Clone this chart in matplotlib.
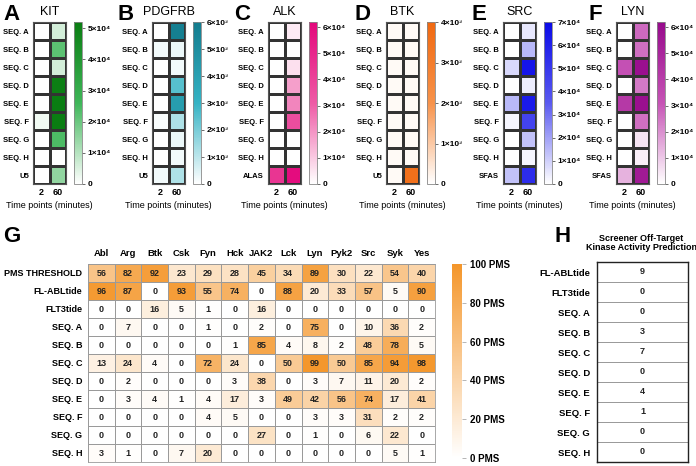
import matplotlib
matplotlib.use("Agg")
import matplotlib.pyplot as plt
import numpy as np
from matplotlib.colors import LinearSegmentedColormap

plt.rcParams['font.family'] = ['Liberation Sans', 'DejaVu Sans']
plt.rcParams['font.weight'] = 'bold'

# ---- data: panels A-F (signal at 2 and 60 min) ----
seq_rows = ["SEQ. A", "SEQ. B", "SEQ. C", "SEQ. D", "SEQ. E", "SEQ. F", "SEQ. G", "SEQ. H"]
time_labels = ["2", "60"]

kit_2 = [0, 0, 0, 0, 0, 2000, 0, 0, 0]
kit_60 = [6000, 22000, 6000, 51000, 52000, 52000, 24000, 0, 15000]

pdgfrb_2 = [0, 200, 0, 0, 0, 100, 0, 0, 200]
pdgfrb_60 = [5800, 300, 200, 2500, 4200, 1200, 300, 200, 1200]

alk_2 = [0, 0, 0, 0, 0, 0, 0, 0, 45000]
alk_60 = [4000, 0, 6000, 18000, 23000, 36000, 0, 0, 60000]

btk_2 = [100, 100, 100, 100, 100, 100, 100, 100, 100]
btk_60 = [100, 100, 100, 100, 100, 100, 100, 100, 3600]

src_2 = [0, 0, 8000, 0, 15000, 2000, 0, 0, 13000]
src_60 = [5000, 15000, 65000, 4000, 63000, 45000, 13000, 2000, 55000]

lyn_2 = [0, 0, 32000, 0, 42000, 0, 0, 0, 14000]
lyn_60 = [27000, 26000, 60000, 24000, 60000, 26000, 5000, 3000, 55000]

# ---- data: panel G (PMS per kinase) ----
kinases = ["Abl", "Arg", "Btk", "Csk", "Fyn", "Hck", "JAK2", "Lck", "Lyn", "Pyk2", "Src", "Syk", "Yes"]
g_rows = ["PMS THRESHOLD", "FL-ABLtide", "FLT3tide"] + seq_rows
pms_threshold = [56, 82, 92, 23, 29, 28, 45, 34, 89, 30, 22, 54, 40]
fl_abltide = [96, 87, 0, 93, 55, 74, 0, 88, 20, 33, 57, 5, 90]
flt3tide = [0, 0, 16, 5, 1, 0, 16, 0, 0, 0, 0, 0, 0]
seq_a = [0, 7, 0, 0, 1, 0, 2, 0, 75, 0, 10, 36, 2]
seq_b = [0, 0, 0, 0, 0, 1, 85, 4, 8, 2, 48, 78, 5]
seq_c = [13, 24, 4, 0, 72, 24, 0, 50, 99, 50, 85, 94, 98]
seq_d = [0, 2, 0, 0, 0, 3, 38, 0, 3, 7, 11, 20, 2]
seq_e = [0, 3, 4, 1, 4, 17, 3, 49, 42, 56, 74, 17, 41]
seq_f = [0, 0, 0, 0, 4, 5, 0, 0, 3, 3, 31, 2, 2]
seq_g = [0, 0, 0, 0, 0, 0, 27, 0, 1, 0, 6, 22, 0]
seq_h = [3, 1, 0, 7, 20, 0, 0, 0, 0, 0, 0, 5, 1]

# ---- data: panel H ----
h_rows = ["FL-ABLtide", "FLT3tide"] + seq_rows
h_counts = [9, 0, 0, 3, 7, 0, 4, 1, 0, 0]

W, H = 696, 466
fig = plt.figure(figsize=(W / 100, H / 100), dpi=100)


def box(x, y, w, h):
    # pixel box (from top-left) -> figure fraction
    return [x / W, 1 - (y + h) / H, w / W, h / H]


def sup(n):
    return str(n).translate(str.maketrans("0123456789", "⁰¹²³⁴⁵⁶⁷⁸⁹"))


def small_panel(left, letter, letter_x, title, last_row, v2, v60, vmax, nticks, exp, colors):
    cmap = LinearSegmentedColormap.from_list(title, colors)
    data = np.column_stack([v2, v60])
    ax = fig.add_axes(box(left, 22, 33, 162))
    mesh = ax.pcolormesh(data, cmap=cmap, vmin=0, vmax=vmax,
                         edgecolors='#333333', linewidth=0.8)
    ax.set_ylim(len(v2), 0)
    rows = seq_rows + [last_row]
    ax.set_yticks(np.arange(len(rows)) + 0.5)
    ax.set_yticklabels(rows, fontsize=5.5)
    ax.set_xticks([0.5, 1.5])
    ax.set_xticklabels(time_labels, fontsize=6.5)
    ax.tick_params(length=0, pad=3)
    for s in ax.spines.values():
        s.set_color('#555555')
        s.set_linewidth(0.8)
    ax.set_xlabel("Time points (minutes)", fontsize=6.5, labelpad=3)
    ax.set_title(title, fontsize=9, pad=5)
    fig.text(letter_x / W, 1 - 15 / H, letter, fontsize=16, va='center')

    cax = fig.add_axes(box(left + 41, 22, 8, 162))
    cb = fig.colorbar(mesh, cax=cax)
    ticks = [i * 10 ** exp for i in range(nticks + 1)]
    cb.set_ticks(ticks)
    cb.set_ticklabels(["0"] + [f"{i}×10{sup(exp)}" for i in range(1, nticks + 1)])
    cb.ax.tick_params(labelsize=6, length=2, width=0.6, color='#555555', pad=2)
    cb.outline.set_edgecolor('#888888')
    cb.outline.set_linewidth(0.6)


small_panel(33, "A", 3, "KIT", "U5", kit_2, kit_60, 52000, 5, 4,
            ['white', '#3fb659', '#0a7d12'])
small_panel(152, "B", 118, "PDGFRB", "U5", pdgfrb_2, pdgfrb_60, 6000, 6, 3,
            ['white', '#35b3c4', '#137c8e'])
small_panel(268, "C", 234, "ALK", "ALAS", alk_2, alk_60, 62000, 6, 4,
            ['white', '#ee5aa5', '#e3077b'])
small_panel(386, "D", 355, "BTK", "U5", btk_2, btk_60, 4000, 4, 3,
            ['white', '#f7924a', '#f06810'])
small_panel(503, "E", 472, "SRC", "SFAS", src_2, src_60, 70000, 7, 4,
            ['white', '#5a5af0', '#0a0ae8'])
small_panel(616, "F", 588, "LYN", "SFAS", lyn_2, lyn_60, 62000, 6, 4,
            ['white', '#c653b5', '#970a8c'])

# ---- panel G ----
g_data = np.array([pms_threshold, fl_abltide, flt3tide, seq_a, seq_b, seq_c,
                   seq_d, seq_e, seq_f, seq_g, seq_h])
g_cmap = LinearSegmentedColormap.from_list("pms", ['white', '#f4962a'])
axg = fig.add_axes(box(88, 264, 347, 198))
gm = axg.pcolormesh(g_data, cmap=g_cmap, vmin=0, vmax=100,
                    edgecolors='#9a9a9a', linewidth=0.5)
axg.set_ylim(len(g_rows), 0)
axg.set_yticks(np.arange(len(g_rows)) + 0.5)
axg.set_yticklabels(g_rows, fontsize=6.5)
axg.set_xticks(np.arange(len(kinases)) + 0.5)
axg.set_xticklabels(kinases, fontsize=6.8)
axg.xaxis.tick_top()
axg.tick_params(length=0, pad=4)
for s in axg.spines.values():
    s.set_color('#9a9a9a')
    s.set_linewidth(0.6)
for i in range(g_data.shape[0]):
    for j in range(g_data.shape[1]):
        axg.text(j + 0.5, i + 0.5, str(g_data[i, j]), ha='center', va='center',
                 fontsize=6.5, color='#222222')
fig.text(3 / W, 1 - 236 / H, "G", fontsize=16, va='center')

caxg = fig.add_axes(box(452, 264, 10, 194))
cbg = fig.colorbar(gm, cax=caxg)
cbg.set_ticks([0, 20, 40, 60, 80, 100])
cbg.set_ticklabels([f"{t} PMS" for t in [0, 20, 40, 60, 80, 100]])
cbg.ax.tick_params(labelsize=7, length=3, width=0.5, color='#999999', pad=3)
cbg.outline.set_visible(False)

# ---- panel H ----
axh = fig.add_axes(box(597, 262, 91, 200))
for i, c in enumerate(h_counts):
    axh.text(0.5, i + 0.5, str(c), ha='center', va='center', fontsize=6.5, color='#222222')
axh.hlines(np.arange(1, len(h_counts)), 0, 1, color='#888888', linewidth=0.6)
axh.set_xlim(0, 1)
axh.set_ylim(len(h_counts), 0)
axh.set_xticks([])
axh.set_yticks(np.arange(len(h_rows)) + 0.5)
axh.set_yticklabels(h_rows, fontsize=6.8)
axh.tick_params(length=0, pad=5)
for s in axh.spines.values():
    s.set_color('#222222')
    s.set_linewidth(1.0)
fig.text(555 / W, 1 - 236 / H, "H", fontsize=16, va='center')
fig.text(641 / W, 1 - 243 / H, "Screener Off-Target\nKinase Activity Prediction",
         ha='center', va='center', fontsize=6.5, linespacing=1.1)

fig.savefig("out.png", dpi=100)
